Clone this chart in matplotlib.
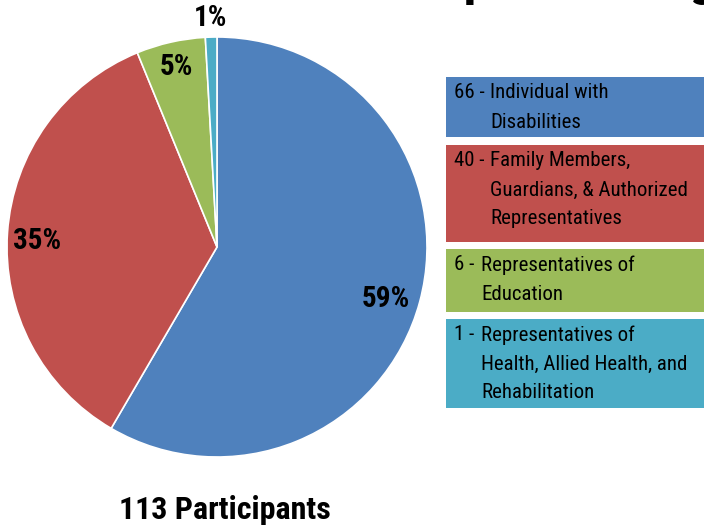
import numpy as np
import matplotlib.pyplot as plt
from matplotlib.patches import Rectangle

# 数据
counts = [66, 40, 6, 1]
pct_labels = ["59%", "35%", "5%", "1%"]
prefixes = ["66 -", "40 -", "6 -", "1 -"]
descriptions = [
    ["Individual with", "Disabilities"],
    ["Family Members,", "Guardians, & Authorized", "Representatives"],
    ["Representatives of", "Education"],
    ["Representatives of", "Health, Allied Health, and", "Rehabilitation"],
]
colors = ["#4F81BD", "#C0504D", "#9BBB59", "#4BACC6"]
total_label = "113 Participants"
title = "Participant Demographics"

plt.rcParams['font.family'] = ['Roboto Condensed', 'DejaVu Sans']

W, H = 704, 529
fig = plt.figure(figsize=(W / 100, H / 100), dpi=100)

# 饼图
ax = fig.add_axes([7 / W, (H - 457) / H, 420 / W, 420 / H])
wedges, _ = ax.pie(counts, colors=colors, startangle=90, counterclock=False,
                   wedgeprops=dict(edgecolor="white", linewidth=1.2))
ax.set_xlim(-1, 1)
ax.set_ylim(-1, 1)
ax.axis("off")

label_r = [0.84, 0.855, 0.88, 1.09]
label_shift = [-2, 2, 0, 0]   # 角度微调
for w, lab, r, s in zip(wedges, pct_labels, label_r, label_shift):
    ang = np.deg2rad((w.theta1 + w.theta2) / 2 + s)
    ax.text(r * np.cos(ang), r * np.sin(ang), lab, ha="center", va="center",
            fontsize=21, fontweight="bold", color="black")

# 图例方框，用像素坐标
ov = fig.add_axes([0, 0, 1, 1])
ov.set_xlim(0, W)
ov.set_ylim(H, 0)
ov.axis("off")
ov.patch.set_alpha(0)

box_tops = [77, 145, 249, 319]
box_heights = [60, 97, 63, 89]
line_h = 29
for top, bh, pre, lines, c in zip(box_tops, box_heights, prefixes, descriptions, colors):
    ov.add_patch(Rectangle((446, top), 258, bh, facecolor=c, edgecolor="none"))
    y0 = top + 16
    ov.text(454, y0, pre, ha="left", va="center", fontsize=15)
    indent = 490 if len(pre) > 3 else 481
    for i, ln in enumerate(lines):
        ov.text(indent, y0 + i * line_h, ln, ha="left", va="center", fontsize=15)

ov.text(225, 510, total_label, ha="center", va="center", fontsize=23, fontweight="bold")
# 标题被裁掉，只露出下伸部分
ov.text(598, -6, title, ha="center", va="baseline", fontsize=38, fontweight="bold")

plt.savefig("out.png", dpi=100)
